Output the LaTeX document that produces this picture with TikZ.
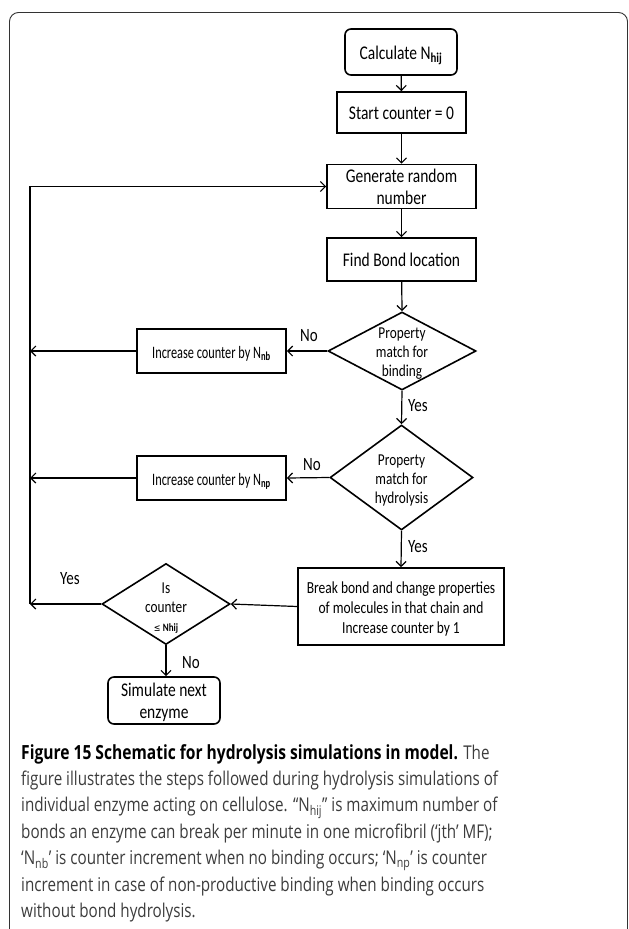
\documentclass[tikz,border=0pt]{standalone}
\usepackage{fontspec}
\usepackage{graphicx}
\setmainfont{Carlito}
\newfontfamily\capfont{Open Sans}
\newfontfamily\symfont{DejaVu Sans}
\usetikzlibrary{shapes.geometric,arrows.meta}
\definecolor{capgray}{HTML}{3C3C3C}
\newcommand{\tx}[2][1.25]{\raisebox{-2.8pt}[\height][\depth]{\scalebox{1}[#1]{\begin{tabular}{@{}c@{}}#2\end{tabular}}}}
\newcommand{\cl}[1]{\scalebox{1}[1.25]{#1}}
\tikzset{
  box/.style={draw, line width=1.6pt, inner sep=0pt, align=center, font=\fontsize{15.5}{17.6}\selectfont},
  rbox/.style={box, rounded corners=6pt},
  dia/.style={draw, line width=1.6pt, shape=diamond, inner sep=0pt},
  diatext/.style={align=center, inner sep=0pt, font=\fontsize{13.3}{15.2}\selectfont},
  arr/.style={line width=1.2pt, -{Straight Barb[length=5pt,width=10pt,line width=1.2pt]}},
  lbl/.style={inner sep=0pt, font=\fontsize{15}{18}\selectfont},
  capline/.style={anchor=base west, inner sep=0pt, font=\capfont\fontsize{15.2}{18}\selectfont, text=capgray},
}
\begin{document}
\begin{tikzpicture}[x=1pt,y=-1pt]
\useasboundingbox (0,0) rectangle (629,929);
\begin{scope}
\clip (0,0) rectangle (629,929);
\draw[line width=0.9pt, color=black!80, rounded corners=9pt] (9.5,12.5) rectangle (627.5,945);
\end{scope}
% boxes
\node[rbox, minimum width=112, minimum height=46] (calc) at (401,52) {\tx{Calculate N\textsubscript{\textbf{hij}}}};
\node[box, minimum width=129, minimum height=41] (start) at (401.5,112.5) {\tx{Start counter = 0}};
\node[box, minimum width=149, minimum height=43] (gen) at (401.5,186.5) {\tx{Generate random\\number}};
\node[box, minimum width=149, minimum height=43] (find) at (401.5,259.5) {\tx{Find Bond location}};
\node[dia, minimum width=148, minimum height=78] (d1) at (402,351) {};
\node[diatext] (d1t) at (d1) {\tx{Property\\match for\\binding}};
\node[box, minimum width=149, minimum height=44, font=\fontsize{12.3}{15}\selectfont] (nb) at (211.5,351) {\tx[1.42]{Increase counter by N\textsubscript{\textbf{nb}}}};
\node[dia, minimum width=143, minimum height=105] (d2) at (401.5,477.5) {};
\node[diatext] (d2t) at (d2) {\tx{Property\\match for\\hydrolysis}};
\node[box, minimum width=149, minimum height=44, font=\fontsize{12.3}{15}\selectfont] (np) at (211.5,478) {\tx[1.42]{Increase counter by N\textsubscript{\textbf{np}}}};
\node[box, minimum width=206, minimum height=77, font=\fontsize{13.5}{16}\selectfont] (bb) at (401,606.5) {\tx{Break bond and change properties\\of molecules in that chain and\\Increase counter by 1}};
\node[dia, minimum width=128, minimum height=81] (d3) at (166,604) {};
\node[diatext] (d3t) at (166,606) {\tx{Is\\counter\\{\symfont\fontsize{8}{9}\selectfont ≤}\,{\fontsize{9}{9}\selectfont\textbf{Nhij}}}};
\node[rbox, minimum width=112, minimum height=47] (sim) at (164,700.5) {\tx{Simulate next\\enzyme}};
\coordinate (loopbot) at (30,604);
% connectors
\draw[arr] (calc) -- (start);
\draw[arr] (start) -- (gen);
\draw[arr] (gen) -- (find);
\draw[arr] (find) -- (d1.north);
\draw[arr] (d1.west) -- (nb.east);
\draw[arr] (nb.west) -- (nb.west -| loopbot);
\draw[arr] (d1.south) -- (d2.north);
\draw[arr] (d2.west) -- (np.east);
\draw[arr] (np.west) -- (np.west -| loopbot);
\draw[arr] (d2.south) -- (bb.north);
\draw[arr] (bb.west) -- (d3.east);
\draw[arr] (d3.west) -- (loopbot);
\draw[arr] (loopbot) |- (gen.west);
\draw[arr] (d3.south) -- (d3.south |- sim.north);
% labels
\node[lbl] (l1) at (309,336) {\cl{No}};
\node[lbl] (l2) at (418,406) {\cl{Yes}};
\node[lbl] (l3) at (312,465) {\cl{No}};
\node[lbl] (l4) at (418,547) {\cl{Yes}};
\node[lbl] (l5) at (70,579) {\cl{Yes}};
\node[lbl] (l6) at (191,663) {\cl{No}};
% caption
\node[capline] (c1) at (21,759) {\cl{{\bfseries\color{black}\fontsize{15.6}{18}\selectfont Figure 15 Schematic for hydrolysis simulations in model.} The}};
\node[capline] (c2) at (21,785.5) {\cl{figure illustrates the steps followed during hydrolysis simulations of}};
\node[capline] (c3) at (21,811.5) {\cl{individual enzyme acting on cellulose. “N\textsubscript{hij}” is maximum number of}};
\node[capline] (c4) at (21,838) {\cl{bonds an enzyme can break per minute in one microfibril (‘jth’ MF);}};
\node[capline] (c5) at (21,864.5) {\cl{‘N\textsubscript{nb}’ is counter increment when no binding occurs; ‘N\textsubscript{np}’ is counter}};
\node[capline] (c6) at (21,891) {\cl{increment in case of non-productive binding when binding occurs}};
\node[capline] (c7) at (21,917) {\cl{without bond hydrolysis.}};
\end{tikzpicture}
\end{document}
